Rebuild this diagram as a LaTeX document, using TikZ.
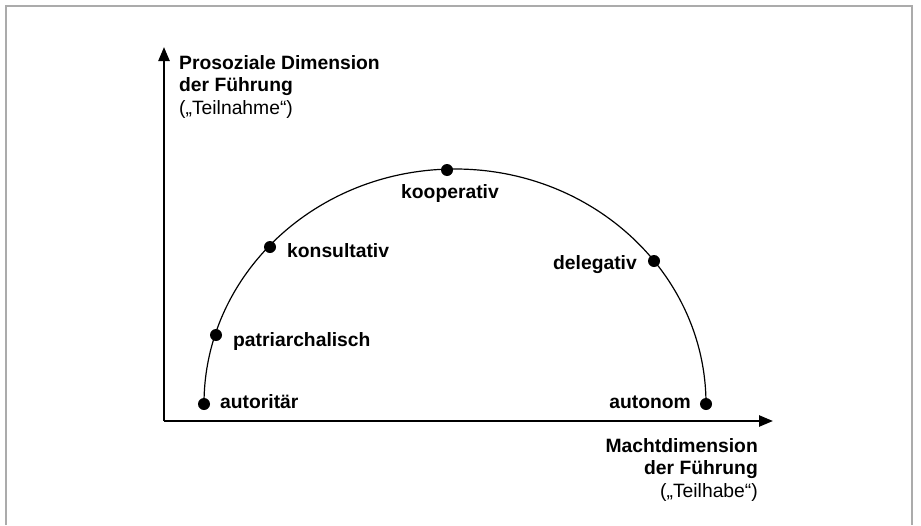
\documentclass[tikz,border=0pt]{standalone}
\usepackage{fontspec}
\setmainfont{Liberation Sans}
\usetikzlibrary{arrows.meta}
\begin{document}
\begin{tikzpicture}[x=1pt,y=-1pt,
  axis/.style={line width=2.4pt,-{Triangle[length=14pt,width=11pt]}},
  curve/.style={line width=1.2pt},
  dot/.style={circle,fill=black,inner sep=0pt,minimum size=12pt},
  lab/.style={font=\fontsize{19.3}{23}\selectfont\bfseries,inner sep=0pt},
  axlab/.style={font=\fontsize{19.3}{22.5}\selectfont,inner sep=0pt}]
\useasboundingbox (0,0) rectangle (921,525);
% grey frame
\draw[line width=2.5pt,color=black!33] (6,525) -- (6,6) -- (912,6) -- (912,525);

% axes
\coordinate (O) at (164,421);
\coordinate (ytip) at (164,47);
\coordinate (xtip) at (773,421);
\draw[axis] (O) -- (ytip);
\draw[axis] (O) -- (xtip);

% half ellipse of leadership styles
\draw[curve] (204,404) arc[start angle=180,end angle=0,x radius=251,y radius=-235];

% styles along the curve
\node[dot] (aut) at (204,404) {};
\node[dot] (pat) at (216,335) {};
\node[dot] (kon) at (270,247) {};
\node[dot] (koo) at (447,170) {};
\node[dot] (del) at (654,261) {};
\node[dot] (ato) at (706,404) {};

\node[lab,anchor=base west] (laut) at (220,408) {autoritär};
\node[lab,anchor=base west] (lpat) at (233,346) {patriarchalisch};
\node[lab,anchor=base west] (lkon) at (287,257) {konsultativ};
\node[lab,anchor=base west] (lkoo) at (401,198) {kooperativ};
\node[lab,anchor=base east] (ldel) at (637,269) {delegativ};
\node[lab,anchor=base east] (lato) at (691,408) {autonom};

% axis titles (base anchor sits on the last line)
\node[axlab,anchor=base west,align=left] (ylab) at (179,114)
  {\textbf{Prosoziale Dimension}\\\textbf{der Führung}\\(„Teilnahme“)};
\node[axlab,anchor=base east,align=right] (xlab) at (758,497)
  {\textbf{Machtdimension}\\\textbf{der Führung}\\(„Teilhabe“)};
\end{tikzpicture}
\end{document}
